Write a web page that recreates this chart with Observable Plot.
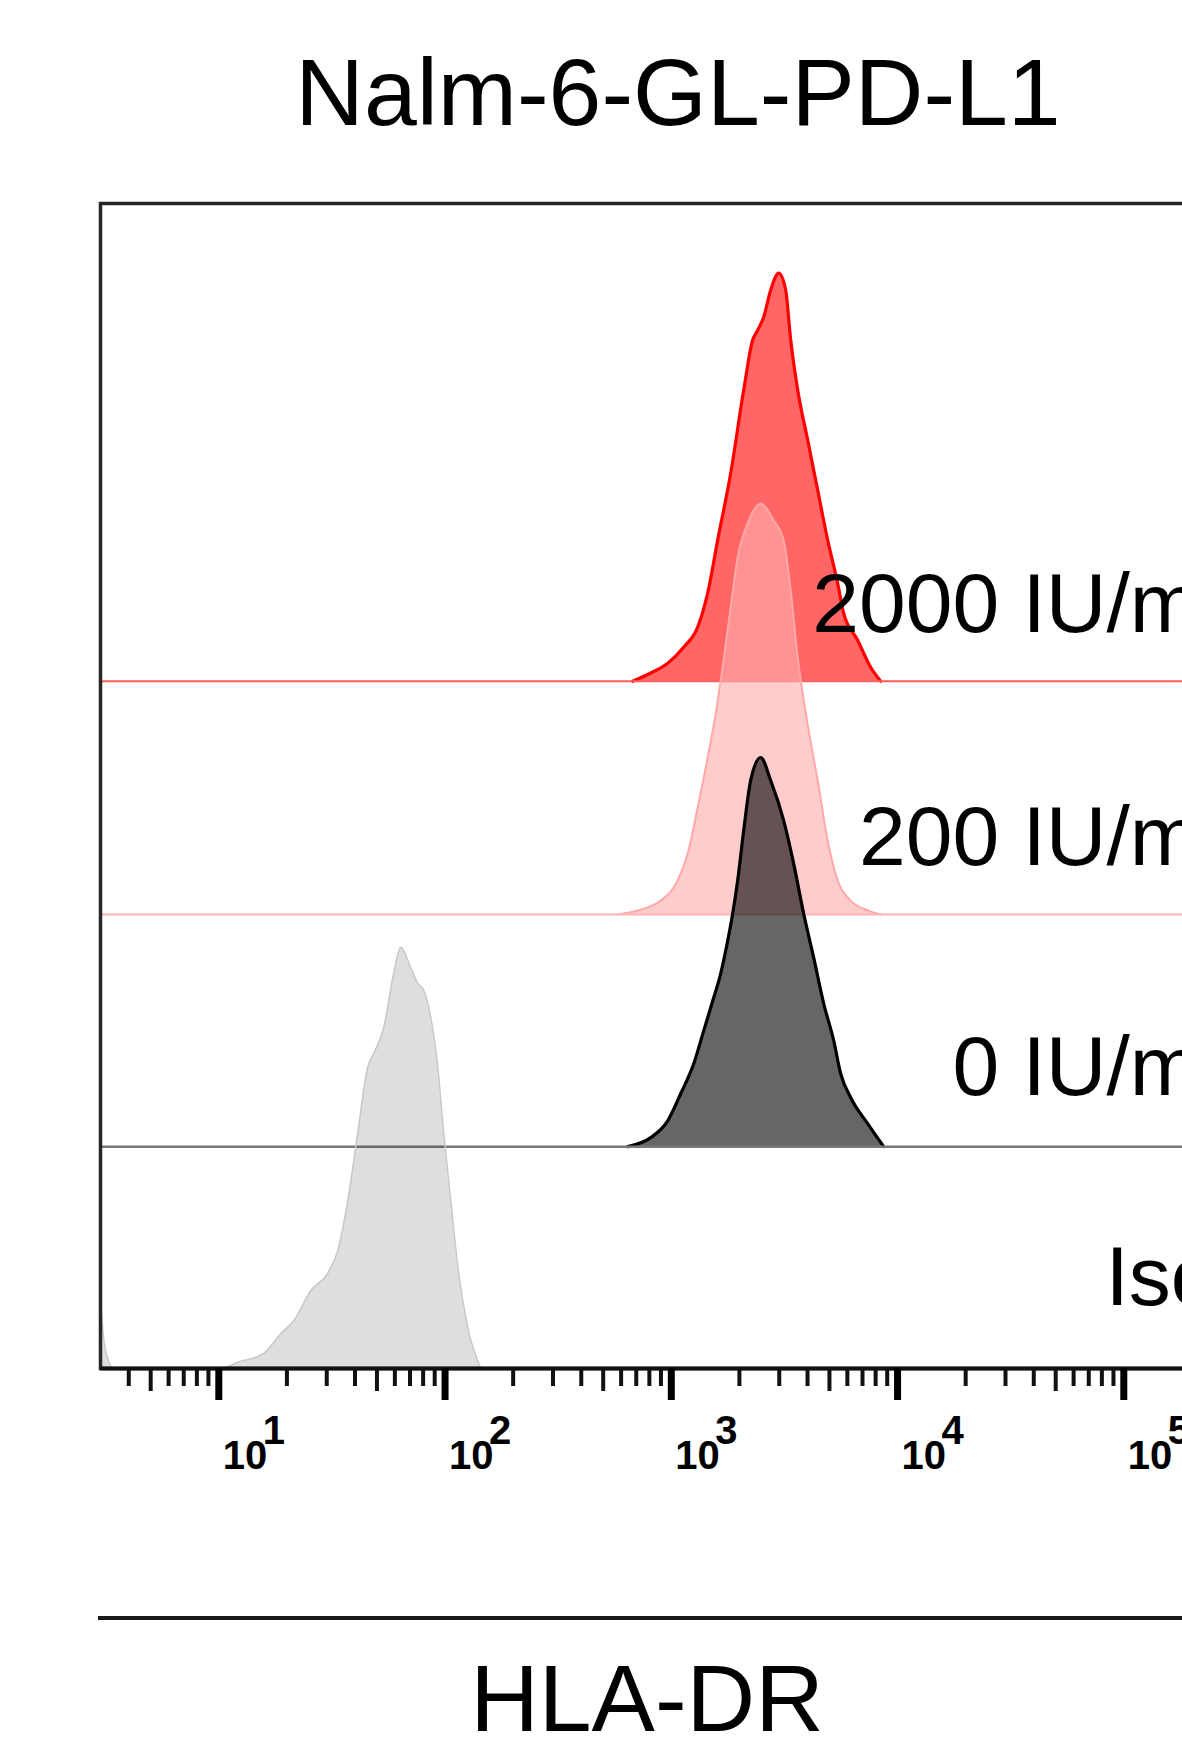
<!DOCTYPE html>
<html>
<head>
<meta charset="utf-8">
<script src="https://cdn.jsdelivr.net/npm/d3@7"></script>
<script src="https://cdn.jsdelivr.net/npm/@observablehq/plot@0.6"></script>
<style>
  html, body { margin: 0; padding: 0; background: #fff; overflow: hidden; }
  #page { position: relative; width: 1182px; height: 1754px; overflow: hidden; background: #fff; }
  .big { position: absolute; font-family: "Liberation Sans", Arial, sans-serif; font-size: 95px; line-height: 1; color: #000; text-align: center; white-space: nowrap; }
  #title { left: 0; width: 1356px; top: 45px; }
  #xlabel { left: 0; width: 1294px; top: 1651px; }
  #sep { position: absolute; left: 98px; width: 1200px; top: 1616px; height: 4px; background: #1a1a1a; }
  #chart { position: absolute; left: 0; top: 150px; width: 1300px; }
</style>
</head>
<body>
<div id="page">
  <div id="title" class="big">Nalm-6-GL-PD-L1</div>
  <div id="chart"></div>
  <div id="sep"></div>
  <div id="xlabel" class="big">HLA-DR</div>
</div>
<script>
// ---- data ----
const seriesNames = ["2000 IU/mL", "200 IU/mL", "0 IU/mL", "Isotype"];

// HLA-DR fluorescence (x) and normalized count (% of mode) for each histogram
const x2000 = [675, 811, 964, 1134, 1308, 1448, 1603, 1830, 2089, 2289, 2409, 2561, 2750, 2983, 3203, 3371, 3620, 4007, 4436, 4912, 5436, 5778, 6664, 7605, 8424];
const y2000 = [0, 2.0, 4.4, 8.3, 13.2, 21.5, 34.4, 50.7, 71.0, 83.2, 85.6, 88.8, 95.4, 99.5, 95.4, 83.2, 71.0, 58.8, 46.6, 34.4, 23.9, 16.6, 10.0, 3.4, 0];

const x200 = [580, 711, 898, 1067, 1182, 1308, 1448, 1571, 1653, 1830, 1965, 2176, 2483, 2835, 3139, 3371, 3620, 4047, 4436, 4912, 5436, 6203, 7379, 8424];
const y200 = [0, 1.0, 3.4, 8.3, 14.9, 26.1, 38.3, 49.0, 57.1, 74.9, 87.1, 95.4, 100.2, 96.1, 91.2, 79.0, 62.7, 44.9, 32.7, 18.0, 8.3, 3.4, 1.0, 0];

const x0 = [642, 811, 964, 1100, 1256, 1391, 1539, 1653, 1775, 1867, 1965, 2089, 2243, 2483, 2750, 3139, 3474, 3847, 4259, 4716, 5220, 5605, 6203, 7379, 8684];
const y0 = [0, 2.2, 6.3, 12.9, 20.2, 28.3, 36.3, 42.2, 50.2, 56.8, 64.9, 77.1, 89.3, 94.9, 89.3, 79.5, 69.0, 56.8, 46.1, 34.9, 25.9, 17.8, 12.0, 5.6, 0];

const xIso = [3.0, 3.13, 3.44, 10.2, 12.1, 15.8, 18.8, 21.5, 25.5, 30.3, 33.6, 37.2, 41.1, 45.5, 48.4, 53.6, 59.3, 63.7, 70.5, 75.7, 80.5, 86.5, 92.9, 98.7, 106, 114, 126, 144];
const yIso = [16.6, 5.6, 0, 0, 1.5, 3.7, 8.5, 11.7, 19.0, 23.2, 28.8, 41.0, 57.3, 73.4, 76.8, 83.2, 96.3, 102.7, 97.8, 93.9, 92.2, 85.6, 73.4, 57.3, 41.0, 24.6, 10.0, 0];

// axis ticks and labels
const majorTicks = [10, 100, 1000, 10000, 100000];
const tickBase = "10";
const tickExponents = ["1", "2", "3", "4", "5"];
const minorTicks = [4, 6, 7, 8, 9, 20, 30, 40, 60, 70, 80, 90, 200, 300, 400, 600, 700, 800, 900,
  2000, 3000, 4000, 6000, 7000, 8000, 9000, 20000, 30000, 40000, 60000, 70000, 80000, 90000, 200000];
const midTicks = [5, 50, 500, 5000, 50000];

// ---- layout / style (not data) ----
const rowOffset = [167.6, 110.7, 54.1, 0];          // vertical offset of each stacked histogram
const labelY = [179.5, 122.9, 66.6, 15.4];
const styles = [
  {fill: "#ff0000", fillOpacity: 0.6, stroke: "#ff0000", strokeWidth: 3.2, base: "#ff5c5c", baseWidth: 2.2},
  {fill: "#ffafaf", fillOpacity: 0.63, stroke: "#ffa8a8", strokeWidth: 2, base: "#ffb4b4", baseWidth: 2},
  {fill: "#000000", fillOpacity: 0.6, stroke: "#000000", strokeWidth: 3.2, base: "#787878", baseWidth: 2.5},
  {fill: "#000000", fillOpacity: 0.13, stroke: "#c8c8c8", strokeWidth: 1.5, base: null, baseWidth: 0}
];

const xs = [x2000, x200, x0, xIso];
const ys = [y2000, y200, y0, yIso];
const tables = seriesNames.map((name, i) =>
  xs[i].map((x, j) => ({series: name, x, v: ys[i][j], base: rowOffset[i]})));

const marks = [];
tables.forEach((rows, i) => {
  const s = styles[i];
  marks.push(Plot.areaY(rows, {x: "x", y1: "base", y2: d => d.base + d.v, fill: s.fill, fillOpacity: s.fillOpacity, curve: "monotone-x"}));
  marks.push(Plot.lineY(rows, {x: "x", y: d => d.base + d.v, stroke: s.stroke, strokeWidth: s.strokeWidth, curve: "monotone-x"}));
  if (s.base) marks.push(Plot.ruleY([rowOffset[i]], {stroke: s.base, strokeWidth: s.baseWidth}));
});

marks.push(Plot.frame({stroke: "#262626", strokeWidth: 3.5}));
marks.push(Plot.ruleY([0], {stroke: "#111", strokeWidth: 4}));
marks.push(Plot.axisX({ticks: minorTicks, tickSize: 18, strokeWidth: 4, stroke: "#111", tickFormat: () => ""}));
marks.push(Plot.axisX({ticks: midTicks, tickSize: 23, strokeWidth: 4, stroke: "#111", tickFormat: () => ""}));
marks.push(Plot.axisX({ticks: majorTicks, tickSize: 32, strokeWidth: 7, stroke: "#000", tickFormat: () => ""}));
marks.push(Plot.text(majorTicks, {x: d => d, text: () => tickBase, frameAnchor: "bottom", lineAnchor: "bottom",
  dy: 100, dx: 4, textAnchor: "start", fontSize: 40, fontWeight: "bold", fill: "#000", ariaLabel: "tick-base"}));
marks.push(Plot.text(majorTicks, {x: d => d, text: (d, i) => tickExponents[i], frameAnchor: "bottom", lineAnchor: "bottom",
  dy: 75, dx: 44, textAnchor: "start", fontSize: 40, fontWeight: "bold", fill: "#000", ariaLabel: "tick-exp"}));

// row labels
marks.push(Plot.text([0, 1, 2], {y: i => labelY[i], text: i => seriesNames[i], frameAnchor: "right", dx: 28,
  textAnchor: "end", lineAnchor: "bottom", fontSize: 84, fill: "#000"}));
marks.push(Plot.text([3], {y: i => labelY[i], text: i => seriesNames[i], frameAnchor: "right", dx: -113,
  textAnchor: "start", lineAnchor: "bottom", fontSize: 84, fill: "#000"}));

const chart = Plot.plot({
  width: 1300,
  height: 1340,
  marginTop: 53,
  marginBottom: 122,
  marginLeft: 100,
  marginRight: 82,
  style: {fontFamily: "'Liberation Sans', Arial, sans-serif", background: "transparent", maxWidth: "none", overflow: "visible"},
  x: {type: "log", domain: [3, 262144]},
  y: {domain: [0, 284.1], axis: null},
  marks
});
document.getElementById("chart").appendChild(chart);

// the axis marks above are used for tick lines only: drop their empty label texts
d3.select(chart).selectAll('g[aria-label="x-axis tick label"]').remove();
// condense the tick-label glyphs like the original
d3.select(chart).selectAll('g[aria-label="tick-base"] text')
  .attr("textLength", 35).attr("lengthAdjust", "spacingAndGlyphs");
d3.select(chart).selectAll('g[aria-label="tick-exp"] text')
  .attr("textLength", 17).attr("lengthAdjust", "spacingAndGlyphs");
</script>
</body>
</html>
